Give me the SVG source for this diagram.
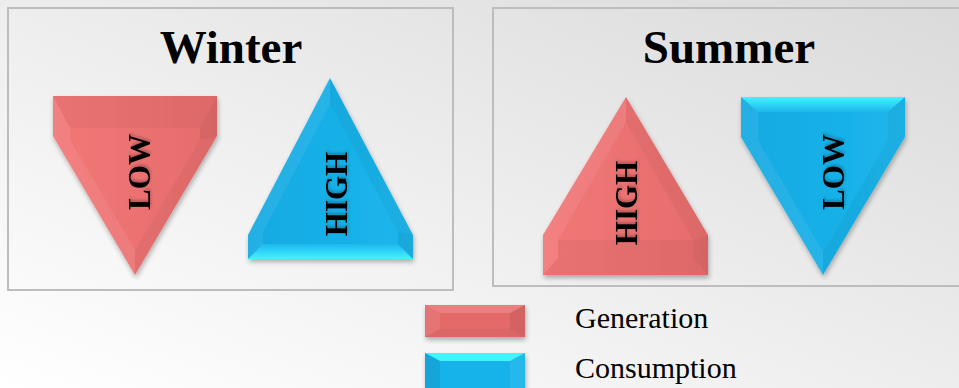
<svg xmlns="http://www.w3.org/2000/svg" width="959" height="388" viewBox="0 0 959 388">
  <defs>
    <linearGradient id="bg" x1="0" y1="1" x2="1" y2="0">
      <stop offset="0" stop-color="#ffffff"/>
      <stop offset="0.45" stop-color="#efefef"/>
      <stop offset="1" stop-color="#dadada"/>
    </linearGradient>
    <linearGradient id="redFace" x1="0" y1="0" x2="1" y2="0">
      <stop offset="0" stop-color="#f27878"/>
      <stop offset="1" stop-color="#e66c6c"/>
    </linearGradient>
    <linearGradient id="blueFace" x1="0" y1="0" x2="1" y2="0">
      <stop offset="0" stop-color="#14a9e2"/>
      <stop offset="1" stop-color="#1cb6ec"/>
    </linearGradient>
    <linearGradient id="cyanDown" x1="0" y1="0" x2="0" y2="1">
      <stop offset="0" stop-color="#1cb8ee"/>
      <stop offset="1" stop-color="#44f2ff"/>
    </linearGradient>
    <linearGradient id="cyanUp" x1="0" y1="1" x2="0" y2="0">
      <stop offset="0" stop-color="#1cb8ee"/>
      <stop offset="1" stop-color="#44f2ff"/>
    </linearGradient>
    <filter id="shadow" x="-10%" y="-10%" width="130%" height="130%">
      <feGaussianBlur in="SourceAlpha" stdDeviation="2.5"/>
      <feOffset dx="1" dy="3" result="b"/>
      <feComponentTransfer><feFuncA type="linear" slope="0.3"/></feComponentTransfer>
      <feMerge><feMergeNode/><feMergeNode in="SourceGraphic"/></feMerge>
    </filter>
    <filter id="softText" x="-20%" y="-20%" width="140%" height="140%">
      <feGaussianBlur in="SourceAlpha" stdDeviation="1.5"/>
      <feOffset dx="2" dy="1"/>
      <feComponentTransfer><feFuncA type="linear" slope="0.25"/></feComponentTransfer>
      <feMerge><feMergeNode/><feMergeNode in="SourceGraphic"/></feMerge>
    </filter>
  </defs>
  <style>
    .panel { fill: none; stroke: #bdbdbd; stroke-width: 2; }
    .title { font-family: "Liberation Serif", "Times New Roman", serif; font-weight: bold; font-size: 47px; fill: #000; text-anchor: middle; }
    .tag { font-family: "Liberation Serif", "Times New Roman", serif; font-weight: bold; font-size: 31px; fill: #000; text-anchor: middle; }
    .legend { font-family: "Liberation Serif", "Times New Roman", serif; font-size: 30px; fill: #000; }
    .lite { fill: #fff; opacity: 0.07; }
    .dark { fill: #000; opacity: 0.035; }
    .darker { fill: #000; opacity: 0.07; }
  </style>

  <rect width="959" height="388" fill="url(#bg)"/>

  <!-- panels -->
  <g id="winter-panel">
    <rect class="panel" x="8" y="8" width="445" height="282"/>
    <text class="title" x="231" y="63">Winter</text>
  </g>
  <g id="summer-panel">
    <rect class="panel" x="493" y="8" width="480" height="278"/>
    <text class="title" x="729" y="63">Summer</text>
  </g>

  <!-- winter generation: LOW -->
  <g id="winter-generation">
    <g filter="url(#shadow)">
      <polygon points="53,96 217,96 217,136 135,275 53,136" fill="url(#redFace)"/>
      <polygon class="dark" points="53,96 217,96 200,128 70,128"/>
      <polygon class="darker" points="217,96 217,136 200,140 200,128"/>
      <polygon class="dark" points="217,136 135,275 135,250 200,140"/>
      <polygon class="lite" points="53,136 135,275 135,250 70,140"/>
      <polygon class="lite" points="53,96 53,136 70,140 70,128"/>
    </g>
    <text class="tag" filter="url(#softText)" transform="translate(150,172) rotate(-90)">LOW</text>
  </g>

  <!-- winter consumption: HIGH -->
  <g id="winter-consumption">
    <g filter="url(#shadow)">
      <polygon points="330,78 413,235 413,259 248,259 248,235" fill="url(#blueFace)"/>
      <polygon class="lite" points="330,78 248,235 263,232 330,104"/>
      <polygon class="dark" points="330,78 413,235 398,232 330,104"/>
      <polygon points="248,259 413,259 398,244 263,244" fill="url(#cyanDown)"/>
      <polygon class="darker" points="413,235 413,259 398,244 398,232"/>
      <polygon class="lite" points="248,235 248,259 263,244 263,232"/>
    </g>
    <text class="tag" filter="url(#softText)" transform="translate(347,194) rotate(-90)">HIGH</text>
  </g>

  <!-- summer generation: HIGH -->
  <g id="summer-generation">
    <g filter="url(#shadow)">
      <polygon points="626,97 708,235 708,275 543,275 543,235" fill="url(#redFace)"/>
      <polygon class="lite" points="626,97 543,235 558,240 626,122"/>
      <polygon class="dark" points="626,97 708,235 693,240 626,122"/>
      <polygon class="dark" points="543,275 708,275 693,258 558,258"/>
      <polygon class="darker" points="708,235 708,275 693,258 693,240"/>
      <polygon class="lite" points="543,235 543,275 558,258 558,240"/>
      <polygon class="dark" points="558,240 693,240 693,258 558,258"/>
    </g>
    <text class="tag" filter="url(#softText)" transform="translate(637,203) rotate(-90)">HIGH</text>
  </g>

  <!-- summer consumption: LOW -->
  <g id="summer-consumption">
    <g filter="url(#shadow)">
      <polygon points="741,97 905,97 905,137 823,275 741,137" fill="url(#blueFace)"/>
      <polygon points="741,97 905,97 888,112 758,112" fill="url(#cyanUp)"/>
      <polygon class="dark" points="905,97 905,137 888,140 888,112"/>
      <polygon class="lite" points="741,97 741,137 758,140 758,112"/>
      <polygon class="dark" points="905,137 823,275 823,252 888,140"/>
      <polygon class="lite" points="741,137 823,275 823,252 758,140"/>
    </g>
    <text class="tag" filter="url(#softText)" transform="translate(844,172) rotate(-90)">LOW</text>
  </g>

  <!-- legend -->
  <g id="legend-generation">
    <g filter="url(#shadow)">
      <rect x="425" y="305" width="100" height="32" fill="#e46a6a"/>
      <polygon fill="#fff" opacity="0.15" points="425,305 525,305 510,313 440,313"/>
      <polygon class="lite" points="425,305 440,313 440,329 425,337"/>
      <polygon class="darker" points="525,305 525,337 510,329 510,313"/>
      <polygon class="dark" points="425,337 525,337 510,329 440,329"/>
    </g>
    <text class="legend" x="575" y="328">Generation</text>
  </g>
  <g id="legend-consumption">
    <g filter="url(#shadow)">
      <rect x="425" y="353" width="100" height="35" fill="#18b2ea"/>
      <polygon points="425,353 525,353 510,361 440,361" fill="#44f2ff"/>
      <polygon class="darker" points="425,353 440,361 440,388 425,388"/>
      <polygon class="lite" points="525,353 525,388 510,388 510,361"/>
    </g>
    <text class="legend" x="575" y="378">Consumption</text>
  </g>
</svg>
